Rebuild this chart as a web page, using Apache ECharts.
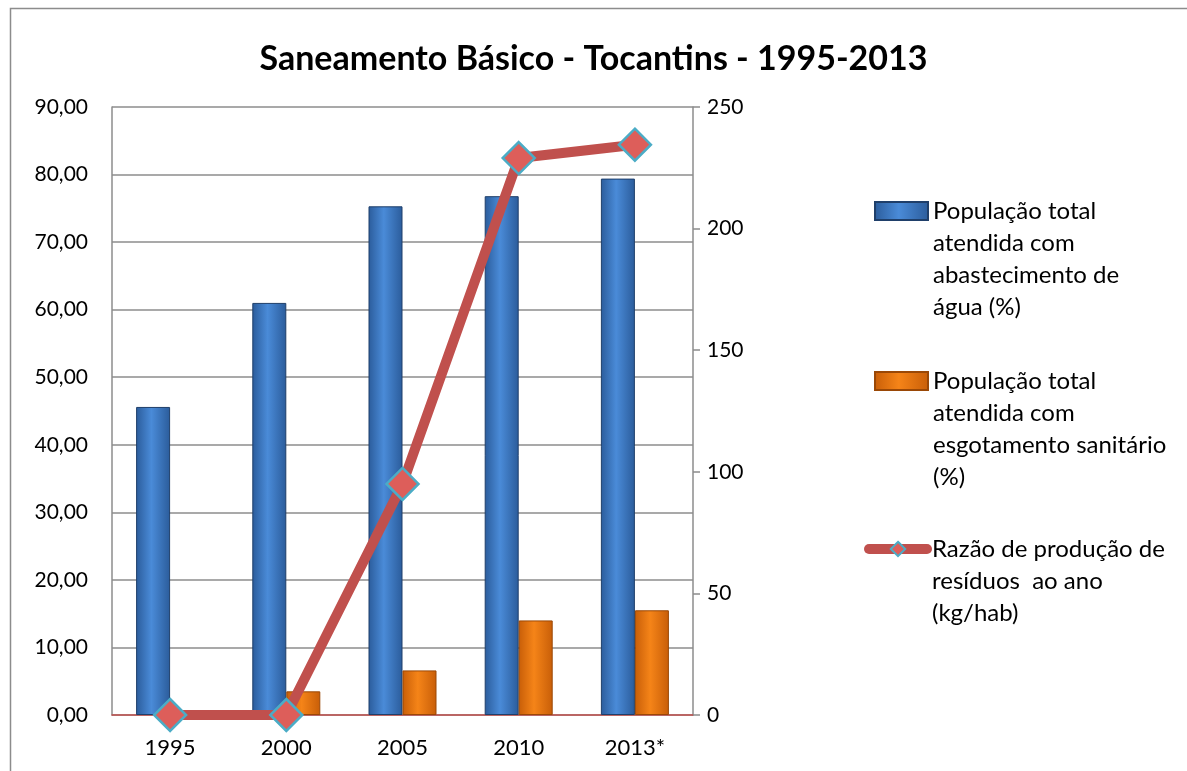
<!DOCTYPE html>
<html>
<head>
<meta charset="utf-8">
<script src="https://cdn.jsdelivr.net/npm/echarts@6/dist/echarts.min.js"></script>
<style>
  html, body { margin: 0; padding: 0; background: #fff; }
  #chart { width: 1187px; height: 771px; }
</style>
</head>
<body>
<div id="chart"></div>
<script>
// dados
const anos = ['1995', '2000', '2005', '2010', '2013*'];
const agua = [45.6, 61.0, 75.3, 76.8, 79.4];       // %
const esgoto = [0, 3.5, 6.6, 14.0, 15.5];           // %
const residuos = [0, 0, 95, 229, 234.5];            // kg/hab
const nomes = [
  'População total\natendida com\nabastecimento de\nágua (%)',
  'População total\natendida com\nesgotamento sanitário\n(%)',
  'Razão de produção de\nresíduos  ao ano\n(kg/hab)'
];

const fonte = 'Lato, "Open Sans", sans-serif';
const lh = 32;

const chart = echarts.init(document.getElementById('chart'));

function barGrad(dark, light) {
  return new echarts.graphic.LinearGradient(0, 0, 1, 0, [
    { offset: 0, color: dark },
    { offset: 0.45, color: light },
    { offset: 1, color: dark }
  ]);
}

// uma legenda por item; linhas vazias antes do texto deixam o símbolo na 1a linha
function legenda(nome, top, left, w, linha) {
  const n = nome.split('\n').length;
  const item = { name: nome };
  if (linha) {
    item.lineStyle = { width: 10, color: '#C0504D', cap: 'round' };
    item.itemStyle = { color: '#DD5E5A', borderColor: '#4BACC6', borderWidth: 2 };
  } else {
    item.icon = 'rect';
  }
  return {
    show: true,
    orient: 'vertical',
    left: left,
    top: top,
    padding: 0,
    itemWidth: w,
    itemHeight: 18,
    data: [item],
    formatter: t => '\n'.repeat(n - 1) + t,
    textStyle: {
      fontFamily: fonte,
      fontSize: 24,
      color: '#000',
      lineHeight: lh
    }
  };
}

const option = {
  animation: false,
  title: {
    text: 'Saneamento Básico - Tocantins - 1995-2013',
    left: 'center',
    top: 37,
    textStyle: { fontFamily: fonte, fontSize: 34, fontWeight: 'bold', color: '#000' }
  },
  graphic: [{
    type: 'rect',
    shape: { x: 10.5, y: 8.5, width: 1300, height: 900 },
    style: { fill: 'none', stroke: '#8c8c8c', lineWidth: 1.5 },
    silent: true
  }],
  legend: [
    legenda(nomes[0], 99, 874, 53, false),
    legenda(nomes[1], 269, 874, 53, false),
    legenda(nomes[2], 469, 864, 58, true)
  ],
  grid: { left: 112, right: 494, top: 107, bottom: 56 },
  xAxis: {
    type: 'category',
    data: anos,
    axisLine: { lineStyle: { color: '#C0504D', width: 1.5 } },
    axisTick: { show: false },
    axisLabel: { fontFamily: fonte, fontSize: 22, color: '#000', margin: 22 }
  },
  yAxis: [{
    type: 'value',
    min: 0,
    max: 90,
    interval: 10,
    axisLine: { show: true, lineStyle: { color: '#8c8c8c', width: 1.5 } },
    axisTick: { show: false },
    splitLine: { lineStyle: { color: '#8c8c8c', width: 1.5 } },
    axisLabel: {
      fontFamily: fonte, fontSize: 21, color: '#000', margin: 24,
      formatter: v => v.toFixed(2).replace('.', ',')
    }
  }, {
    type: 'value',
    min: 0,
    max: 250,
    interval: 50,
    position: 'right',
    axisLine: { show: true, lineStyle: { color: '#8c8c8c', width: 1.5 } },
    axisTick: { show: true, length: 7, lineStyle: { color: '#8c8c8c', width: 1.5 } },
    splitLine: { show: false },
    axisLabel: { fontFamily: fonte, fontSize: 21, color: '#000', margin: 14 }
  }],
  series: [{
    name: nomes[0],
    type: 'bar',
    data: agua,
    barWidth: 34,
    barGap: '0%',
    itemStyle: {
      color: barGrad('#2B5C9B', '#4A8BD8'),
      borderColor: '#1F3F6A',
      borderWidth: 1
    }
  }, {
    name: nomes[1],
    type: 'bar',
    data: esgoto,
    barWidth: 34,
    barGap: '0%',
    itemStyle: {
      color: barGrad('#C85E08', '#F58418'),
      borderColor: '#9A4806',
      borderWidth: 1
    }
  }, {
    name: nomes[2],
    type: 'line',
    yAxisIndex: 1,
    data: residuos,
    symbol: 'diamond',
    symbolSize: 32,
    z: 5,
    lineStyle: { color: '#C0504D', width: 10 },
    itemStyle: { color: '#DD5E5A', borderColor: '#4BACC6', borderWidth: 2.5 }
  }]
};

chart.setOption(option);
</script>
</body>
</html>
